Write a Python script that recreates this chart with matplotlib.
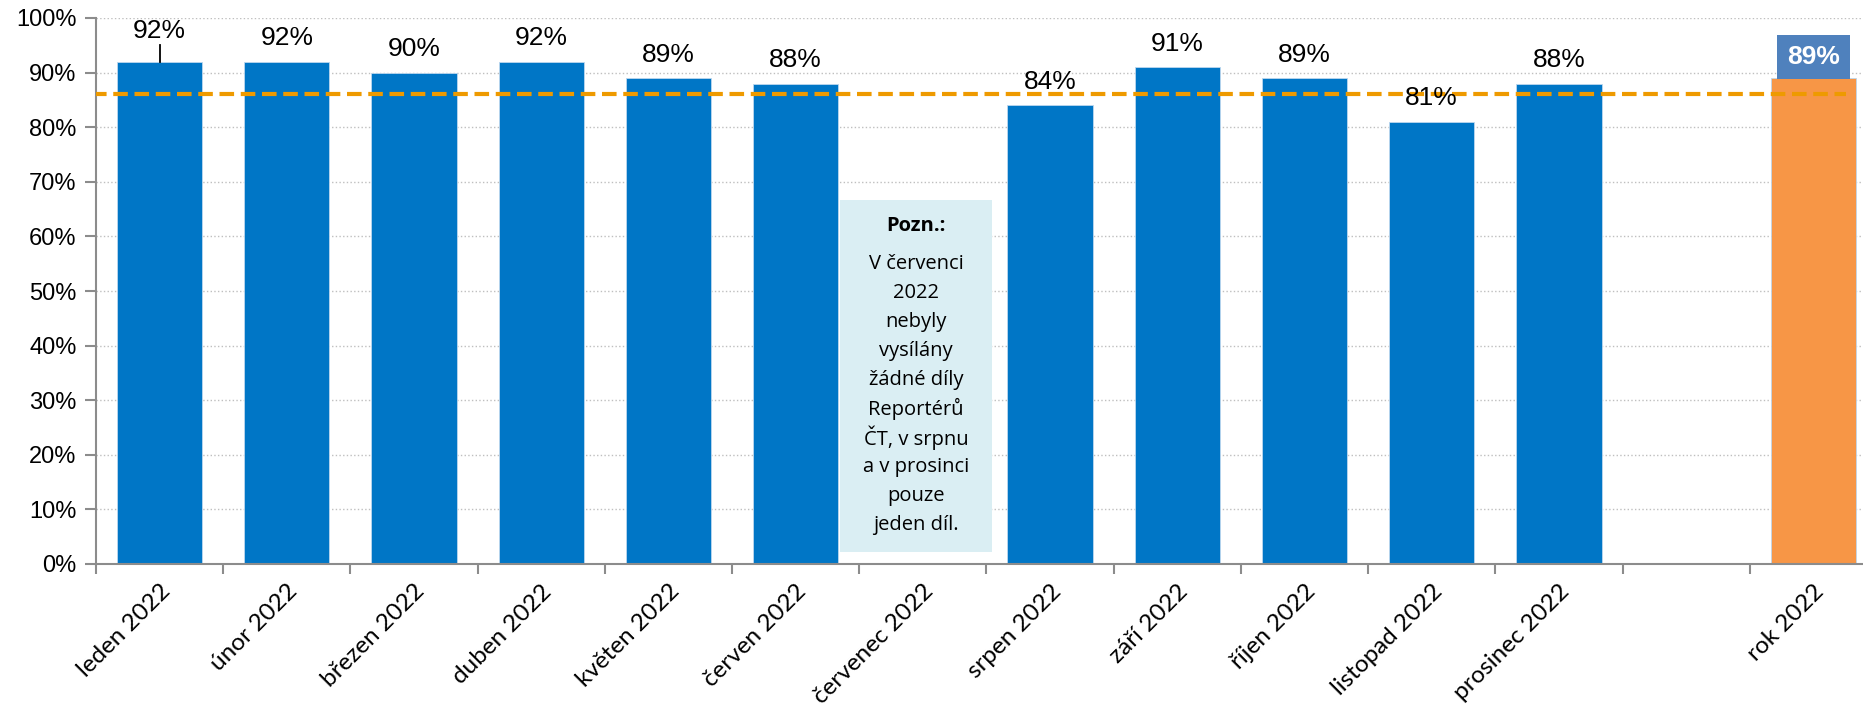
import matplotlib
matplotlib.use("Agg")
import matplotlib.pyplot as plt
from matplotlib.patches import Rectangle
import numpy as np

# data
months = ["leden 2022", "únor 2022", "březen 2022", "duben 2022", "květen 2022",
          "červen 2022", "červenec 2022", "srpen 2022", "září 2022", "říjen 2022",
          "listopad 2022", "prosinec 2022", "", "rok 2022"]
values = [92, 92, 90, 92, 89, 88, None, 84, 91, 89, 81, 88, None, 89]
average = 86
note_lines = ["V červenci", "2022", "nebyly", "vysílány", "žádné díly",
              "Reportérů", "ČT, v srpnu", "a v prosinci", "pouze", "jeden díl."]

blue = "#0076C6"
orange = "#F79646"
dash_col = "#EE9A00"

fig = plt.figure(figsize=(18.63, 7.09), dpi=100)
ax = fig.add_axes([96/1863, 145/709, 1 - 96/1863, 546/709])

x = np.arange(len(months))
for i, v in enumerate(values):
    if v is None:
        continue
    col = orange if months[i] == "rok 2022" else blue
    ax.bar(x[i], v, width=0.67, color=col, edgecolor="#BDD7EE", linewidth=0.6, zorder=2)

# labels
for i, v in enumerate(values):
    if v is None:
        continue
    if months[i] == "rok 2022":
        ax.text(x[i], v + 1.6, f"{v}%", ha="center", va="bottom", fontsize=19,
                fontweight="bold", color="white", family="Liberation Sans",
                bbox=dict(boxstyle="square,pad=0.38", fc="#4F81BD", ec="none"), zorder=5)
    elif i == 0:
        ax.text(x[i], v + 4.3, f"{v}%", ha="center", va="baseline", fontsize=19,
                family="Liberation Sans", zorder=5)
        ax.plot([x[i], x[i]], [v, v + 3.1], color="black", lw=1.3, zorder=4)
    else:
        ax.text(x[i], v + 3.0, f"{v}%", ha="center", va="baseline", fontsize=19,
                family="Liberation Sans", zorder=5)

# average line
ax.plot([-0.53, 13.26], [average, average], color=dash_col, lw=3, ls=(0, (3.5, 1.6)), zorder=3)

# note box
bx0, bx1 = 5.35, 6.54
ax.add_patch(Rectangle((bx0, 2.2), bx1 - bx0, 64.5, fc="#DAEEF3", ec="none", zorder=3))
xc = (bx0 + bx1) / 2
ax.text(xc, (564 - 226) / 5.46, "Pozn.:", ha="center", va="center", fontsize=14.5,
        fontweight="bold", family="Open Sans", zorder=4)
for k, line in enumerate(note_lines):
    yy = (564 - 264 - 29 * k) / 5.46
    ax.text(xc, yy, line, ha="center", va="center", fontsize=14.5, family="Open Sans", zorder=4)

ax.set_xlim(-0.5, 13.39)
ax.set_ylim(0, 100)
ax.set_yticks(np.arange(0, 101, 10))
ax.set_yticklabels([f"{t}%" for t in range(0, 101, 10)], family="Liberation Sans", fontsize=17)
ax.yaxis.grid(True, color="#BFBFBF", ls=":", lw=1)
ax.set_axisbelow(True)

ax.set_xticks(x)
ax.set_xticklabels(months, rotation=45, ha="right", rotation_mode="anchor",
                   family="Lato", fontsize=17.5)
ax.tick_params(axis="x", length=0, pad=12)
ax.set_xticks(np.arange(-0.5, 13.4, 1), minor=True)
ax.tick_params(axis="x", which="minor", length=7, color="#8C8C8C", width=1.5)
ax.tick_params(axis="y", length=8, color="#8C8C8C", width=1.5, pad=6)

for s in ["top", "right"]:
    ax.spines[s].set_visible(False)
for s in ["left", "bottom"]:
    ax.spines[s].set_color("#8C8C8C")
    ax.spines[s].set_linewidth(1.5)

fig.savefig("out.png", dpi=100)
